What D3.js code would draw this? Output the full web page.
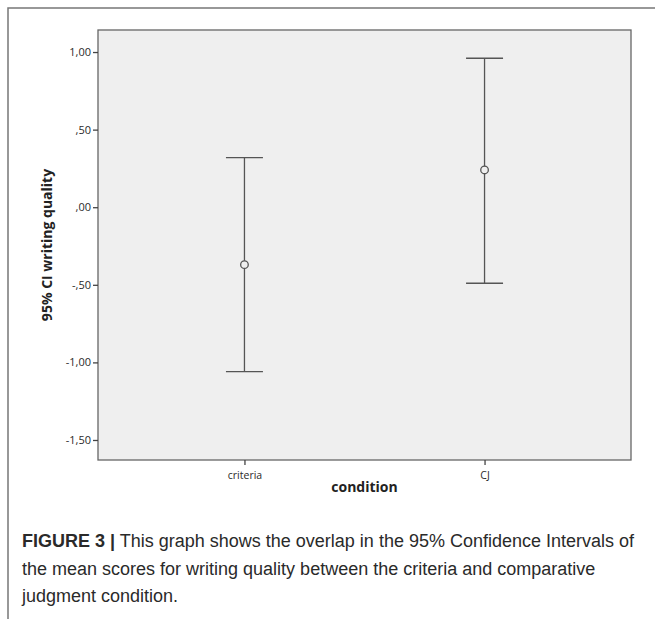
<!DOCTYPE html>
<html>
<head>
<meta charset="utf-8">
<script src="https://cdn.jsdelivr.net/npm/d3@7"></script>
<style>
  body { margin: 0; background: #fff; }
  svg { display: block; }
</style>
</head>
<body>
<div id="chart-area"></div>
<script>
// data
const conditions = ["criteria", "CJ"]
const means = [-0.37, 0.24]
const lower = [-1.06, -0.49]
const upper = [0.32, 0.96]
const yTicks = [1.0, 0.5, 0.0, -0.5, -1.0, -1.5]

const W = 655, H = 619
const PLOT = { LEFT: 98, RIGHT: 631, TOP: 30, BOTTOM: 460 }

const svg = d3.select("#chart-area").append("svg")
  .attr("width", W)
  .attr("height", H)

// outer frame (top and left only)
svg.append("path")
  .attr("d", `M8,${H} V8 H${W}`)
  .attr("fill", "none")
  .attr("stroke", "#777")
  .attr("stroke-width", 1.5)

const x = d3.scalePoint()
  .domain(conditions)
  .range([PLOT.LEFT, PLOT.RIGHT])
  .padding(0.61)

const y = d3.scaleLinear()
  .domain([-1.629, 1.142])
  .range([PLOT.BOTTOM, PLOT.TOP])

// plot background
svg.append("rect")
  .attr("x", PLOT.LEFT)
  .attr("y", PLOT.TOP)
  .attr("width", PLOT.RIGHT - PLOT.LEFT)
  .attr("height", PLOT.BOTTOM - PLOT.TOP)
  .attr("fill", "#efefef")
  .attr("stroke", "#666")
  .attr("stroke-width", 1.3)

// SPSS style comma decimals, no leading zero
const fmt = d => {
  const s = Math.abs(d).toFixed(2).replace(".", ",").replace(/^0,/, ",")
  return (d < 0 ? "-" : "") + s
}

const yAxis = svg.append("g")
  .attr("transform", `translate(${PLOT.LEFT},0)`)
  .call(d3.axisLeft(y).tickValues(yTicks).tickFormat(fmt).tickSize(5).tickPadding(2))
yAxis.select(".domain").remove()
yAxis.selectAll("line").attr("stroke", "#444").attr("stroke-width", 1.3)
yAxis.selectAll("text")
  .attr("font-family", "'Open Sans', sans-serif")
  .attr("font-size", "11px")
  .attr("fill", "#2a2a2a")

const xAxis = svg.append("g")
  .attr("transform", `translate(0,${PLOT.BOTTOM})`)
  .call(d3.axisBottom(x).tickSize(5).tickPadding(7))
xAxis.select(".domain").remove()
xAxis.selectAll("line").attr("stroke", "#444").attr("stroke-width", 1.3)
xAxis.selectAll("text")
  .attr("font-family", "'Open Sans', sans-serif")
  .attr("font-size", "10.5px")
  .attr("fill", "#2a2a2a")

// Y label
svg.append("text")
  .attr("transform", `translate(52,245) rotate(-90)`)
  .attr("text-anchor", "middle")
  .attr("font-family", "'Open Sans', sans-serif")
  .attr("font-weight", "bold")
  .attr("font-size", "14px")
  .attr("fill", "#222")
  .text("95% CI writing quality")

// X label
svg.append("text")
  .attr("x", (PLOT.LEFT + PLOT.RIGHT) / 2)
  .attr("y", 492)
  .attr("text-anchor", "middle")
  .attr("font-family", "'Open Sans', sans-serif")
  .attr("font-weight", "bold")
  .attr("font-size", "14px")
  .attr("fill", "#222")
  .text("condition")

// error bars
const bars = conditions.map((c, i) => ({ c, mean: means[i], lo: lower[i], hi: upper[i] }))
const CAP = 18.5
const eb = svg.append("g").attr("stroke", "#555").attr("stroke-width", 1.3).attr("fill", "none")

eb.selectAll(".whisker").data(bars).enter().append("line")
  .attr("x1", d => x(d.c)).attr("x2", d => x(d.c))
  .attr("y1", d => y(d.hi)).attr("y2", d => y(d.lo))

eb.selectAll(".cap-hi").data(bars).enter().append("line")
  .attr("x1", d => x(d.c) - CAP).attr("x2", d => x(d.c) + CAP)
  .attr("y1", d => y(d.hi)).attr("y2", d => y(d.hi))

eb.selectAll(".cap-lo").data(bars).enter().append("line")
  .attr("x1", d => x(d.c) - CAP).attr("x2", d => x(d.c) + CAP)
  .attr("y1", d => y(d.lo)).attr("y2", d => y(d.lo))

eb.selectAll("circle").data(bars).enter().append("circle")
  .attr("cx", d => x(d.c))
  .attr("cy", d => y(d.mean))
  .attr("r", 3.8)
  .attr("fill", "#efefef")

// caption
const cap = svg.append("text")
  .attr("font-family", "'Liberation Sans', Arial, sans-serif")
  .attr("font-size", "18px")
  .attr("fill", "#2a2a2a")
const lines = [
  ["FIGURE 3 |", " This graph shows the overlap in the 95% Confidence Intervals of"],
  ["", "the mean scores for writing quality between the criteria and comparative"],
  ["", "judgment condition."]
]
lines.forEach((l, i) => {
  const t = cap.append("tspan").attr("x", 22).attr("y", 547 + i * 27.5)
  if (l[0]) t.append("tspan").attr("font-weight", "bold").text(l[0])
  t.append("tspan").text(l[1])
})
</script>
</body>
</html>
